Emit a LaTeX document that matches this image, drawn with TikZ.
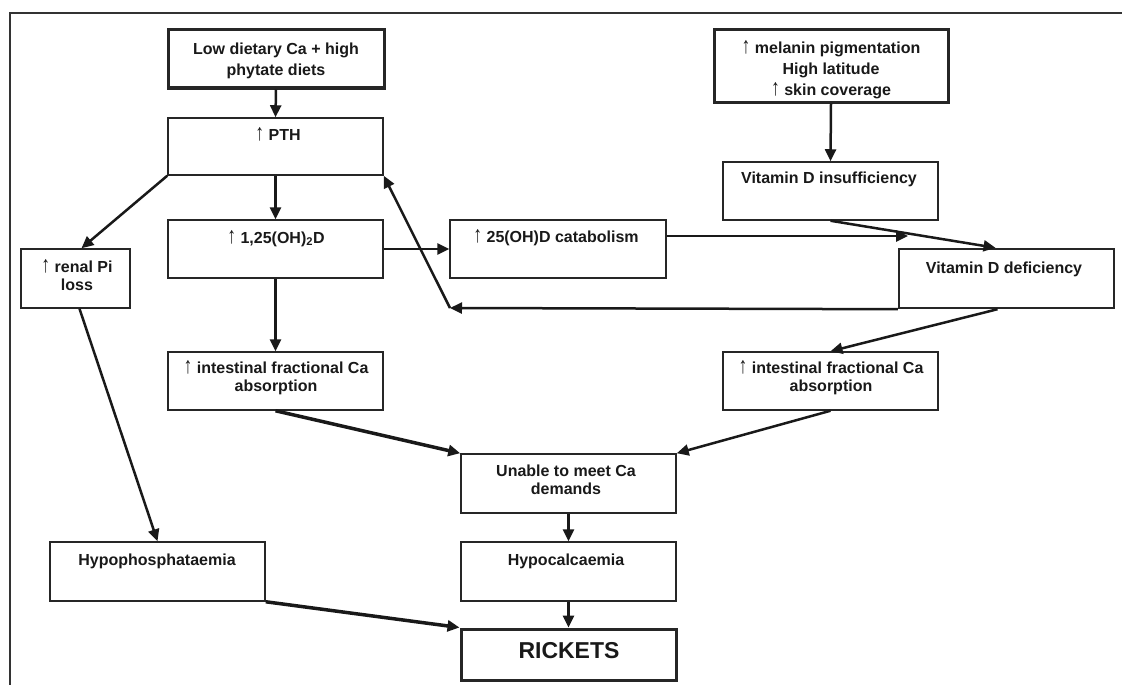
\documentclass[tikz,border=0pt]{standalone}
\usepackage{fontspec}
\usepackage{graphicx}
\setmainfont{Liberation Sans}
\usetikzlibrary{arrows.meta}
\newcommand\myst{\rule{0pt}{14pt}}
\newcommand\uparr{{\mdseries\raisebox{-0.5pt}{\scalebox{1.1}[1.45]{↑}}}}
\begin{document}
\begin{tikzpicture}[x=1pt,y=-1pt,
  box/.style={draw=black!85, line width=1.5pt, inner sep=0pt},
  thickbox/.style={box, line width=3pt},
  txt/.style={anchor=north, inner sep=0pt, align=center, text=black!90,
    font=\bfseries\fontsize{16}{18}\selectfont},
  widetxt/.style={txt, font=\bfseries\fontsize{16}{21}\selectfont},
  arr/.style={draw=black!90, line width=2.5pt, -{Triangle[length=12pt,width=11pt]}},
  heavyarr/.style={arr, line width=3.5pt}
]
\useasboundingbox (0,0) rectangle (1122,685);
% frame
\draw[black!80, line width=1.8pt] (10,685) -- (10,13) -- (1122,13);

% boxes
\node[thickbox, minimum width=216pt, minimum height=58pt] (diet) at (276,59) {};
\node[box, minimum width=215pt, minimum height=57pt] (pth) at (275.5,146.5) {};
\node[box, minimum width=215pt, minimum height=58pt] (dih) at (275.5,249) {};
\node[box, minimum width=216pt, minimum height=58pt] (cat) at (558,249) {};
\node[thickbox, minimum width=234pt, minimum height=72pt] (mel) at (831,66) {};
\node[box, minimum width=215pt, minimum height=58pt] (ins) at (830.5,191) {};
\node[box, line width=2.4pt, minimum width=215pt, minimum height=59pt] (def) at (1006.5,278.5) {};
\node[box, minimum width=109pt, minimum height=59pt] (ren) at (75.5,278.5) {};
\node[box, minimum width=215pt, minimum height=58pt] (intl) at (275.5,381) {};
\node[box, minimum width=215pt, minimum height=58pt] (intr) at (830.5,381) {};
\node[box, minimum width=215pt, minimum height=59pt] (una) at (568.5,483.5) {};
\node[box, minimum width=215pt, minimum height=59pt] (hca) at (568.5,571.5) {};
\node[thickbox, minimum width=215pt, minimum height=51pt] (ric) at (568.5,654.5) {};
\node[box, minimum width=215pt, minimum height=59pt] (hph) at (157.5,571.5) {};

% texts
\node[widetxt] (diet-t) at (276,40) {\myst Low dietary Ca + high\\phytate diets};
\node[txt] (pth-t) at (278,126) {\myst \uparr\ PTH};
\node[txt] (dih-t) at (276,229) {\myst \uparr\ 1,25(OH)\textsubscript{2}D};
\node[txt] (cat-t) at (556,228) {\myst \uparr\ 25(OH)D catabolism};
\node[widetxt] (mel-t) at (831,39) {\myst \uparr\ melanin pigmentation\\High latitude\\\uparr\ skin coverage};
\node[txt] (ins-t) at (829,169) {\myst Vitamin D insufficiency};
\node[txt] (def-t) at (1004,259) {\myst Vitamin D deficiency};
\node[txt] (ren-t) at (77,258) {\myst \uparr\ renal Pi\\loss};
\node[txt] (intl-t) at (276,359) {\myst \uparr\ intestinal fractional Ca\\absorption};
\node[txt] (intr-t) at (831,359) {\myst \uparr\ intestinal fractional Ca\\absorption};
\node[txt] (una-t) at (566,462) {\myst Unable to meet Ca\\demands};
\node[txt] (hca-t) at (566,551) {\myst Hypocalcaemia};
\node[txt] (hph-t) at (157,551) {\myst Hypophosphataemia};
\node[txt, font=\bfseries\fontsize{23}{26}\selectfont] (ric-t) at (569,638) {\rule{0pt}{20pt}RICKETS};

% connectors
\coordinate (cend) at (908,236);
\coordinate (corner) at (450,308);
\draw[arr] (diet.south) -- (pth.north);
\draw[arr] (pth.south) -- (dih.north);
\draw[arr] (pth.south west) -- ([xshift=6pt]ren.north);
\draw[arr] (dih.east) -- (cat.west);
\draw[arr] (dih.south) -- (intl.north);
\draw[arr] ([xshift=4pt]ren.south) -- (hph.north);
\draw[heavyarr] (intl.south) -- (una.north west);
\draw[heavyarr] (hph.south east) -- (ric.north west);
\draw[arr] (una.south) -- (hca.north);
\draw[arr] (hca.south) -- (ric.north);
\draw[arr] (mel.south) -- (ins.north);
\draw[arr] (ins.south) -- ([xshift=-11pt]def.north);
\draw[arr] ([yshift=13pt]cat.east) -- (cend);
\draw[arr] (def.south west) -- (corner);
\draw[arr] (corner) -- (pth.south east);
\draw[arr] ([xshift=-9pt]def.south) -- (intr.north);
\draw[arr] (intr.south) -- (una.north east);
\end{tikzpicture}
\end{document}
